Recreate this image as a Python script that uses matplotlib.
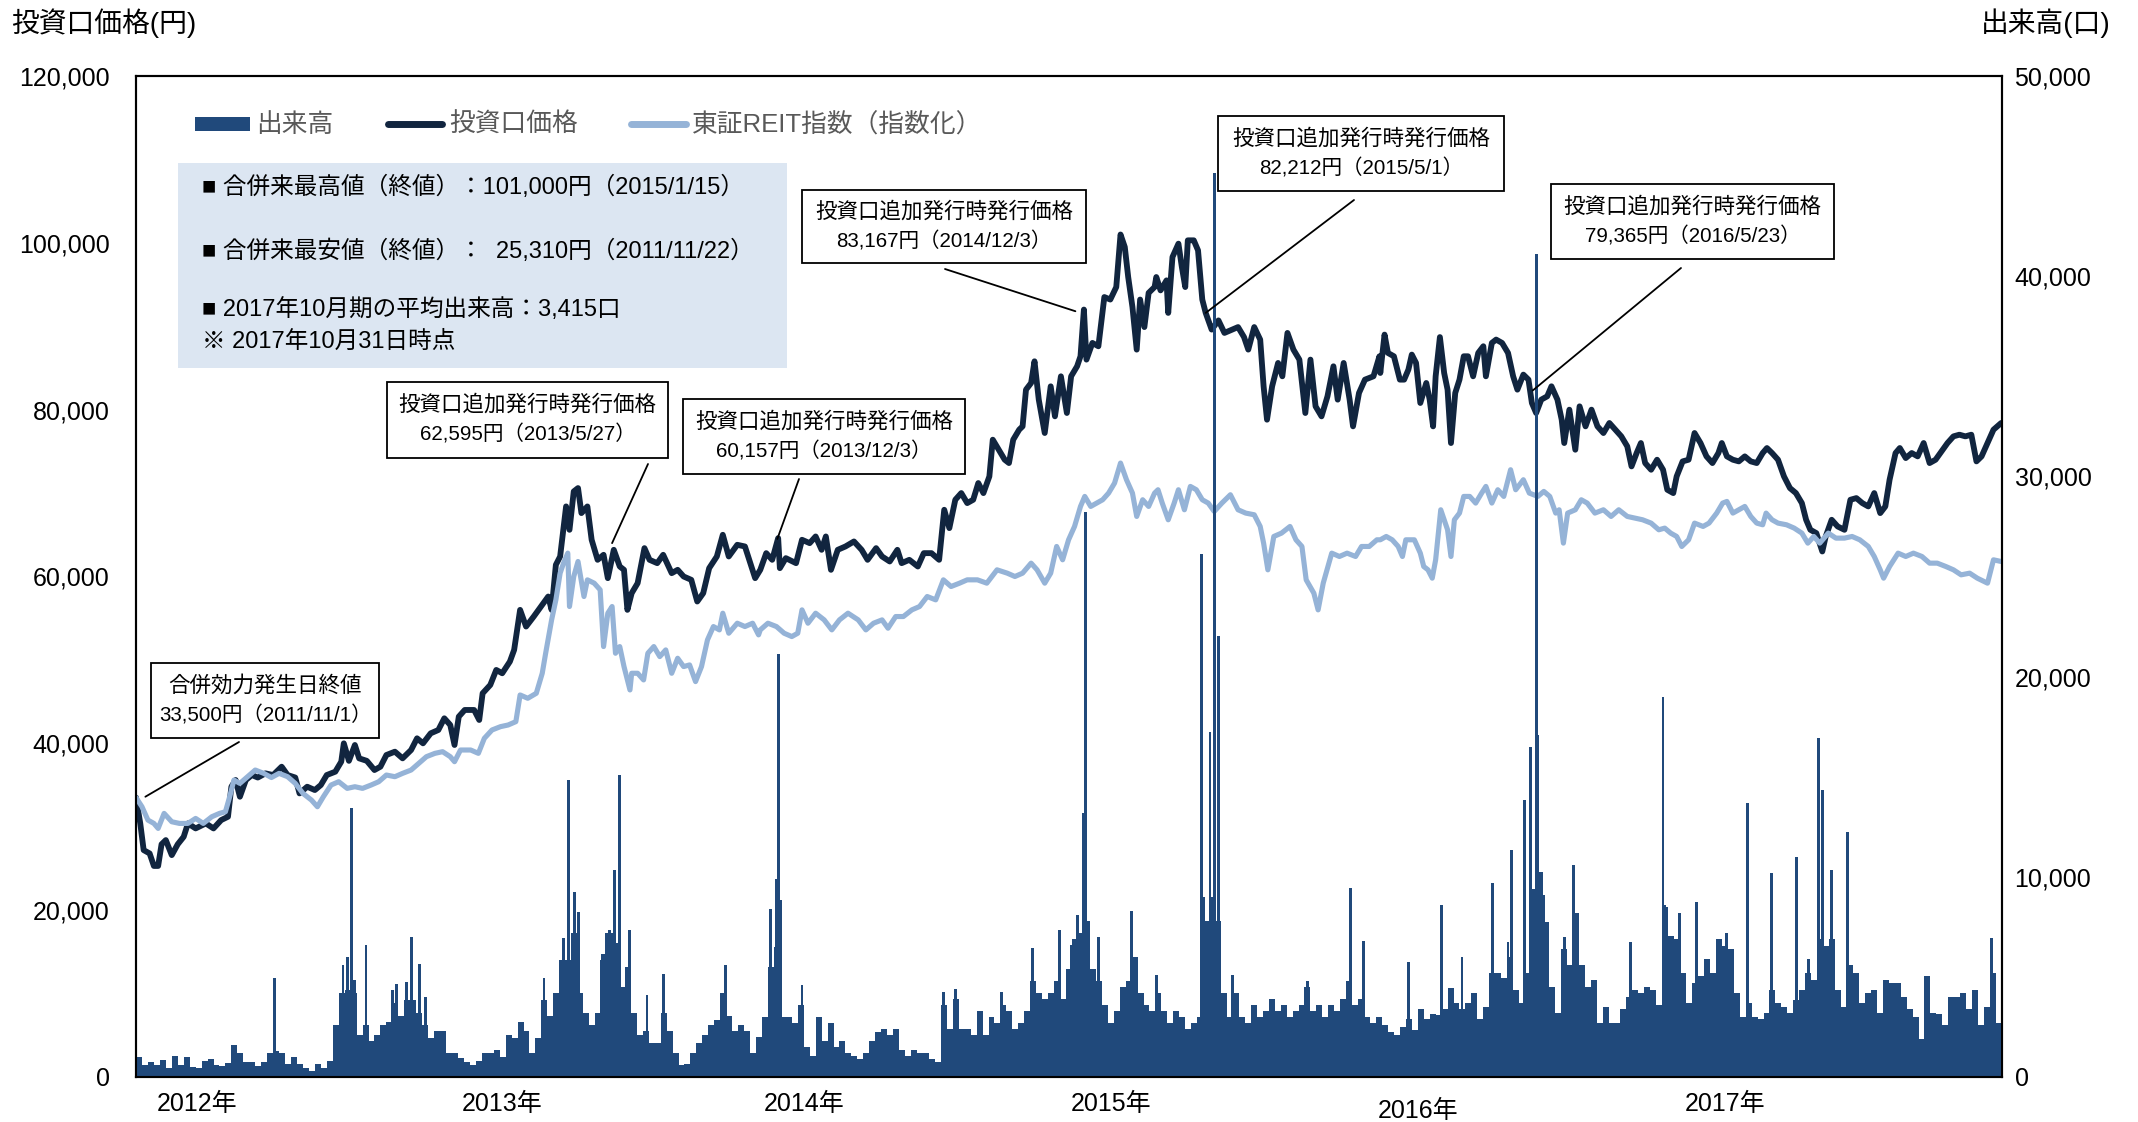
import numpy as np
import matplotlib
matplotlib.use("Agg")
import matplotlib.pyplot as plt
import matplotlib.dates as mdates
import matplotlib.transforms as mtransforms
from matplotlib.patches import Rectangle
from matplotlib.lines import Line2D
from matplotlib.ticker import FuncFormatter

plt.rcParams['font.family'] = ['Liberation Sans', 'Noto Sans CJK JP', 'DejaVu Sans']

# ---------------- data ----------------
START = '2011-11-01'          # merger effective date; days below are counted from it
END_DAY = 2191                # 2017-10-31

# 投資口価格 (thousand yen)
price_day = [0,5,9,16,21,26,30,35,42,49,56,61,70,82,91,100,108,112,117,122,129,136,143,152,161,171,178,187,192,201,
             210,217,224,234,241,244,250,257,262,271,280,287,294,304,313,323,330,337,346,355,362,369,374,379,386,397,
             403,407,416,423,430,439,444,451,458,467,477,484,488,493,498,505,509,514,519,523,530,535,542,549,554,561,
             568,573,577,582,589,597,603,612,619,629,636,643,652,659,666,673,682,689,696,706,715,727,
             733,740,747,754,756,763,775,782,791,798,805,810,816,824,833,843,852,859,869,876,885,894,899,908,918,925,
             934,943,949,955,962,969,976,983,989,995,1002,1006,1013,1020,1025,1030,1037,1041,1045,1051,1055,1060,1067,
             1074,1079,1086,1093,1098,1105,1109,1113,1116,1123,1130,1137,1144,1151,1156,1161,1165,1170,1175,1179,1184,
             1189,1196,1198,1203,1210,1212,1217,1224,1228,1232,1235,1242,1247,1252,1256,1263,1271,1278,1287,1294,1301,
             1306,1313,1320,1324,1328,1334,1341,1346,1352,1359,1366,1373,1379,1385,1392,1399,1406,1411,1418,1425,1429,
             1436,1443,1453,1460,
             1461,1466,1470,1477,1484,1489,1494,1498,1503,1508,1515,1519,1523,1526,1531,1536,1540,1544,1549,1554,1559,
             1564,1570,1576,1582,1585,1592,1597,1604,1611,1617,1622,1629,1635,1639,1644,1650,1657,1662,1669,1674,1677,
             1683,1690,1695,1702,1709,1716,1723,1730,1737,1744,1751,1756,1762,1767,1772,1779,1786,1793,1798,1805,1809,
             1816,1823,1830,1837,1844,1851,1858,1862,1868,1875,1882,1889,1896,1903,1910,1915,1921,1928,1935,1942,1949,
             1956,1961,1966,1973,1980,1984,1991,1998,2006,2013,2020,2027,2034,2041,2048,2054,2059,2066,2071,2078,2085,
             2092,2099,2106,2113,2120,2127,2134,2141,2148,2155,2161,2167,2174,2181,2190]
price_k = [33.5,30.4,27.2,26.8,25.3,25.3,27.9,28.4,26.6,27.9,28.8,30.4,29.8,30.4,29.8,30.8,31.2,34.8,35.6,33.6,
           35.6,36.2,35.9,36.4,36.2,37.2,36.2,35.9,34.0,34.8,34.4,35.0,36.2,36.6,37.8,40.0,37.9,39.8,38.2,37.9,
           36.8,37.2,38.6,39.0,38.2,39.2,40.6,40.0,41.2,41.6,43.0,42.2,39.8,43.2,44.0,44.0,42.8,46.0,47.0,48.8,
           48.4,49.8,51.2,56.0,54.0,55.2,56.6,57.6,56.0,61.4,62.4,68.4,65.6,70.2,70.6,67.6,68.4,64.4,62.0,62.6,
           59.8,63.2,61.2,60.8,56.0,58.0,59.2,63.4,62.0,61.6,62.6,60.4,60.8,60.0,59.6,57.0,58.0,61.0,62.4,65.0,
           62.4,63.8,63.6,59.8,
           60.8,62.8,62.0,64.6,61.0,62.2,61.6,64.4,64.0,64.8,63.2,64.8,60.8,63.2,63.6,64.2,63.2,62.0,63.4,62.4,
           61.8,63.2,61.6,62.0,61.2,62.8,62.8,62.0,68.0,65.8,69.2,70.0,68.8,69.2,71.2,70.0,72.0,76.4,75.2,74.0,
           73.6,76.4,77.6,78.0,82.4,83.2,85.8,81.2,77.2,82.8,79.2,84.0,79.6,84.0,85.2,86.4,92.0,86.0,88.0,87.6,
           93.5,93.2,94.7,101.0,99.5,95.9,92.3,87.2,93.2,89.9,94.0,94.7,95.9,94.3,95.5,91.6,98.3,99.9,97.1,94.7,
           100.3,100.3,99.1,93.2,91.6,89.6,90.7,89.2,89.6,89.9,88.7,87.2,89.9,88.4,82.8,78.8,82.8,85.6,84.0,89.2,
           87.2,86.0,79.6,86.0,80.4,79.2,81.6,85.2,81.2,85.6,81.2,78.0,82.0,83.6,84.0,86.4,
           84.4,89.0,86.8,86.4,83.6,83.6,84.8,86.6,85.6,80.8,83.2,81.2,78.0,84.0,88.7,84.4,82.4,76.0,82.0,83.6,
           86.4,86.4,84.0,86.8,87.6,84.0,88.0,88.4,88.0,86.8,84.0,82.4,84.2,83.6,80.8,79.6,81.2,81.6,82.8,81.2,
           78.8,76.0,80.0,75.2,80.4,78.0,80.0,78.0,77.2,78.4,77.6,76.8,75.6,73.2,74.8,76.0,73.6,72.8,74.0,72.8,
           70.4,70.0,72.0,73.8,74.0,77.2,76.0,74.4,73.6,74.8,76.0,74.4,74.0,73.8,74.4,73.8,73.6,74.8,75.4,74.8,
           74.0,72.0,70.6,70.0,68.8,66.8,65.6,65.2,63.0,64.8,66.8,66.0,65.6,69.2,69.4,68.8,68.4,70.0,67.6,68.4,
           71.6,74.8,75.4,74.2,74.8,74.4,76.0,73.6,74.0,75.0,76.0,76.8,77.0,76.8,77.0,73.8,74.4,76.0,77.6,78.4]

# 東証REIT指数（指数化, same scale as the unit price, thousand yen)
reit_day = [0,7,14,21,26,33,42,51,61,70,79,89,98,105,110,115,122,131,140,150,159,168,178,187,196,206,213,220,229,238,
            248,257,266,276,285,294,304,313,323,332,341,351,360,369,374,381,393,402,409,418,428,437,446,451,460,470,
            477,481,488,493,498,502,507,509,514,519,526,530,538,545,549,554,559,563,568,573,580,582,589,596,601,608,
            615,622,629,636,643,650,657,664,671,678,685,689,696,706,715,724,731,
            733,742,752,761,770,777,782,789,798,808,817,826,836,848,857,866,876,883,892,901,911,920,929,939,948,957,
            967,976,988,999,1011,1023,1032,1041,1051,1058,1067,1074,1081,1088,1095,1102,1109,1114,1121,1128,1135,
            1142,1149,1156,1163,1170,1175,1182,1189,1196,1200,1205,1212,1219,1224,1231,1238,1245,1252,1259,1266,1275,
            1285,1294,1303,1313,1320,1324,1329,1336,1345,1355,1362,1369,1374,1383,1388,1394,1404,1413,1422,1432,1439,
            1448,1457,
            1461,1468,1475,1482,1487,1491,1501,1508,1512,1517,1522,1526,1532,1536,1540,1544,1548,1554,1559,1566,1573,
            1580,1585,1592,1599,1606,1614,1620,1629,1636,1646,1653,1660,1667,1671,1676,1681,1690,1697,1704,1713,1723,
            1732,1741,1751,1760,1769,1779,1788,1795,1802,1809,1815,1823,1830,1840,1847,1856,1863,1868,1875,1882,1889,
            1896,1903,1910,1914,1921,1928,1938,1947,1956,1963,1970,1977,1987,1996,2006,2015,2024,2034,2041,2048,2052,
            2059,2069,2078,2087,2097,2106,2115,2125,2134,2143,2153,2162,2174,2181,2190]
reit_k = [33.5,32.4,30.8,30.4,29.8,31.6,30.6,30.4,30.4,31.0,30.4,31.2,31.6,31.8,33.6,35.6,35.2,36.0,36.8,36.4,
          35.9,36.4,36.0,35.2,34.0,33.2,32.4,33.6,35.0,35.4,34.6,34.8,34.6,35.0,35.4,36.2,36.0,36.4,36.8,37.6,
          38.4,38.8,39.0,38.4,37.8,39.2,39.2,38.8,40.6,41.6,42.0,42.2,42.6,45.8,45.4,46.0,48.4,50.8,54.8,57.2,
          60.4,61.6,62.8,56.4,60.0,61.8,57.6,59.6,59.2,58.4,51.6,55.6,56.4,50.8,51.6,49.2,46.4,48.4,48.4,47.6,
          50.8,51.6,50.4,51.2,48.4,50.2,49.2,49.4,47.4,49.2,52.4,54.0,53.6,55.6,53.2,54.4,54.0,54.4,53.0,
          53.6,54.4,54.0,53.2,52.8,53.2,56.0,54.4,55.6,54.8,53.6,54.8,55.6,54.8,53.6,54.4,54.8,53.8,55.2,55.2,
          56.0,56.4,57.6,57.2,59.6,58.8,59.2,59.6,59.6,59.2,60.8,60.4,60.0,60.4,61.6,60.8,59.2,60.4,63.6,62.0,
          64.4,66.0,68.4,69.6,68.4,68.8,69.2,70.0,71.2,73.6,71.6,70.0,67.2,69.2,68.4,70.0,70.4,68.8,66.8,68.8,
          70.4,68.0,70.8,70.4,69.2,68.8,67.8,68.8,69.8,68.0,67.6,67.4,66.0,64.0,60.8,64.8,65.2,66.0,64.4,63.6,
          59.6,58.0,56.0,59.2,62.8,62.4,62.8,62.4,63.6,63.6,64.4,
          64.4,64.8,64.4,63.6,62.4,64.4,64.4,62.8,61.2,60.8,59.8,62.0,68.0,66.8,65.6,62.4,66.8,67.6,69.6,69.6,
          68.8,70.0,70.8,68.8,70.4,69.6,72.8,70.4,71.6,70.0,69.6,70.2,69.6,67.6,68.0,64.0,67.6,68.0,69.2,68.8,
          67.6,68.0,67.2,68.0,67.2,67.0,66.8,66.4,65.6,65.8,65.2,64.8,63.6,64.4,66.4,66.0,66.4,67.6,68.8,69.0,
          67.6,68.0,68.4,67.2,66.4,66.2,67.6,66.8,66.4,66.2,65.8,65.2,64.0,64.8,64.0,65.2,64.6,64.6,64.8,64.4,
          63.6,62.4,60.8,59.8,61.2,62.8,62.4,62.8,62.4,61.6,61.6,61.2,60.8,60.2,60.4,59.8,59.2,62.0,61.8]

# 出来高 (units): weekly level from 2011-11-01, plus single heavy-volume days
vol_week = [1000,600,770,600,850,450,1050,600,1000,500, 450,800,900,600,550,700,1600,1200,750,750,
            550,750,1200,1300,1200,650,1000,650,450,300, 650,450,800,2600,4200,4350,4200,2100,2600,1800,
            2100,2600,2750,3700,3050,3850,3850,3200,2600,1950, 2300,2300,1200,1200,950,750,600,800,1200,1200,
            1350,1000,2100,1950,2750,2300,1200,1950,3850,3050, 4200,5850,5850,7200,4200,3200,2600,3200,6150,7200,
            6700,4500,5500,3200,2100,2300,1700,1700,3200,2300, 1200,600,650,1200,1700,2100,2600,2850,4200,3050,
            2300,2600,2300,1200,2000,3000,5500,6500,3000,3000, 2700,3600,1500,1050,3000,1800,2700,1500,1800,1200,
            1050,900,1200,1800,2250,2400,2100,2400,1350,1050, 1350,1200,1200,900,750,3600,2400,3900,2400,2400,
            2100,3300,2100,3000,2700,3600,3300,2400,2700,3300, 4800,4200,3900,4200,4800,3900,5400,6900,7200,7800,
            5400,4800,3600,2700,3300,4500,4800,6000,4200,3600, 3300,4200,3300,2700,3300,3000,2400,2700,3000,7800,
            9000,7800,4200,3000,4200,3000,2700,3600,3000,3300, 3900,3300,3600,3000,3300,3600,4500,3300,3600,3000,
            3600,3300,3900,4800,3600,3900,3000,2700,3000,2600, 2250,2100,2500,2900,2350,3400,2900,3150,3100,3400,
            4450,3700,3400,3700,4200,2900,3500,5200,5200,4950, 6000,4350,3700,5200,9400,10250,7750,4500,3200,6400,
            5600,8200,5600,4500,4850,2700,3500,2700,2700,3400, 4000,4350,4200,4500,4350,3600,8500,7050,6900,5200,
            3700,4700,5050,5900,5200,6900,6550,6400,4200,3000, 3700,3000,2900,3200,4350,3700,3500,3200,3850,4350,
            5200,4850,6900,6550,6900,4350,3500,5600,5200,3700, 4200,4350,3200,4850,4700,4700,4000,3400,3000,1900,
            5050,3200,3150,2600,4000,4000,4200,3400,4350,2600, 3500,5200,2700,2600]
spike_day = [163,243,248,253,257,270,301,306,318,323,333,340,479,498,502,508,515,520,547,552,
             556,562,568,573,579,600,619,692,745,752,754,757,782,948,962,1016,1053,1084,1098,1105,
             1113,1115,1130,1169,1198,1251,1254,1261,1266,1271,1288,1376,1426,1441,1494,1533,1557,1593,1611,1615,
             1630,1637,1641,1644,1646,1653,1677,1688,1755,1793,1795,1812,1832,1867,1892,1920,1950,1964,1976,1980,
             1991,2010,2179]
spike_vol = [4930,5600,6000,13420,4850,6590,4350,4660,4760,6990,5660,4010,4930,5160,6940,14840,9260,8260,5840,7170,
             7340,10340,15085,4510,7340,4090,5160,5590,8400,9900,21150,8860,4580,4250,4400,4250,6450,7340,6600,8100,
             13200,28200,7000,8300,5100,26100,9000,17250,45150,22050,5100,4800,9460,6810,5760,8590,6010,9670,6760,11340,
             13840,16500,8210,41100,17080,9090,7010,10590,6760,19000,8580,8180,8760,7180,13700,10170,11010,5910,16920,14340,
             10320,12250,6920]

year_labels = ['2012年', '2013年', '2014年', '2015年', '2016年', '2017年']
year_label_day = [72, 430, 785, 1145, 1505, 1866]

# annotation texts and the point (day, thousand yen) each leader line touches
ann_title = ['合併効力発生日終値'] + ['投資口追加発行時発行価格'] * 5
ann_value = ['33,500円（2011/11/1）', '62,595円（2013/5/27）', '60,157円（2013/12/3）',
             '83,167円（2014/12/3）', '82,212円（2015/5/1）', '79,365円（2016/5/23）']
ann_day = [11, 559, 753, 1103, 1256, 1640]
ann_price_k = [33.6, 64.0, 64.5, 91.8, 91.6, 82.3]

info_lines = ['■ 合併来最高値（終値）：101,000円（2015/1/15）',
              '■ 合併来最安値（終値）：  25,310円（2011/11/22）',
              '■ 2017年10月期の平均出来高：3,415口',
              '※ 2017年10月31日時点']

legend_labels = ['出来高', '投資口価格', '東証REIT指数（指数化）']

# ---------------- style ----------------
C_PRICE = '#11253f'
C_REIT = '#95b3d7'
C_VOL = '#20497b'
C_BOX = '#dce6f2'
C_LEG = '#595959'

W, H = 2138, 1122
def fx(px): return px / W
def fy(py): return 1 - py / H

fig = plt.figure(figsize=(W / 100, H / 100), dpi=100)
ax = fig.add_axes([fx(136), fy(1077), fx(2002) - fx(136), fy(76) - fy(1077)])
ax2 = ax.twinx()

t0 = mdates.date2num(np.datetime64(START))
def tx(days): return t0 + np.asarray(days, dtype=float)

# lines (left axis)
ax.plot(tx(price_day), np.array(price_k) * 1000, color=C_PRICE, lw=4.2,
        solid_joinstyle='round', solid_capstyle='round', zorder=2)
ax.plot(tx(reit_day), np.array(reit_k) * 1000, color=C_REIT, lw=3.7,
        solid_joinstyle='round', solid_capstyle='round', zorder=3)

# volume (right axis)
wk = np.arange(len(vol_week)) * 7
ax2.bar(tx(wk), vol_week, width=7, align='edge', color=C_VOL, linewidth=0)
ax2.bar(tx(spike_day), spike_vol, width=3.4, align='center', color=C_VOL, linewidth=0)

ax.set_xlim(tx(0), tx(END_DAY))
ax.set_ylim(0, 120000)
ax2.set_ylim(0, 50000)
ax.set_yticks(np.arange(0, 120001, 20000))
ax2.set_yticks(np.arange(0, 50001, 10000))
fmt = FuncFormatter(lambda v, p: f'{int(v):,}')
ax.yaxis.set_major_formatter(fmt)
ax2.yaxis.set_major_formatter(fmt)
ax.set_xticks([])
ax2.set_xticks([])
ax.tick_params(axis='y', length=0, labelsize=18, pad=19)
ax2.tick_params(axis='y', length=0, labelsize=18, pad=9)
for a in (ax, ax2):
    for s in a.spines.values():
        s.set_color('black')
        s.set_linewidth(1.5)

# year labels
trans = mtransforms.blended_transform_factory(ax.transData, ax.transAxes)
for lab, d in zip(year_labels, year_label_day):
    yoff = -0.034 if lab == '2016年' else -0.0265
    ax.text(tx(d), yoff, lab, transform=trans, ha='center', va='center', fontsize=18)

# axis titles
fig.text(fx(11), fy(23), '投資口価格(円)', ha='left', va='center', fontsize=20)
fig.text(fx(2111), fy(23), '出来高(口)', ha='right', va='center', fontsize=20)

# legend
fig.add_artist(Rectangle((fx(195), fy(131)), fx(250) - fx(195), fy(117) - fy(131),
                         transform=fig.transFigure, facecolor=C_VOL, edgecolor='none'))
fig.text(fx(256), fy(125), legend_labels[0], ha='left', va='center', fontsize=18.5, color=C_LEG)
fig.add_artist(Line2D([fx(388), fx(442)], [fy(124), fy(124)], transform=fig.transFigure,
                      color=C_PRICE, lw=5, solid_capstyle='round'))
fig.text(fx(449), fy(125), legend_labels[1], ha='left', va='center', fontsize=18.5, color=C_LEG)
fig.add_artist(Line2D([fx(631), fx(686)], [fy(124), fy(124)], transform=fig.transFigure,
                      color=C_REIT, lw=5, solid_capstyle='round'))
fig.text(fx(692), fy(125), legend_labels[2], ha='left', va='center', fontsize=18.5, color=C_LEG)

# info box
fig.add_artist(Rectangle((fx(178), fy(368)), fx(787) - fx(178), fy(163) - fy(368),
                         transform=fig.transFigure, facecolor=C_BOX, edgecolor='none'))
for line, yy in zip(info_lines, [187, 251, 309.5, 342]):
    fig.text(fx(202), fy(yy), line, ha='left', va='center', fontsize=17, color='black')

# annotation boxes and leader lines
boxes = [(151, 663, 379, 738), (387, 382, 668, 458), (683, 399, 965, 474),
         (802, 190, 1086, 263), (1218, 116, 1504, 191), (1551, 184, 1834, 259)]
starts = [(239, 742), (648, 464), (799, 479), (945, 269), (1354, 200), (1681, 268)]
for (x0, y0, x1, y1), (sx, sy), t1, t2, d, p in zip(boxes, starts, ann_title, ann_value, ann_day, ann_price_k):
    fig.add_artist(Rectangle((fx(x0), fy(y1)), fx(x1) - fx(x0), fy(y0) - fy(y1),
                             transform=fig.transFigure, facecolor='white', edgecolor='black', lw=1.3))
    cx = (x0 + x1) / 2
    cy = (y0 + y1) / 2
    fig.text(fx(cx), fy(cy - 14.5), t1, ha='center', va='center', fontsize=15.5)
    fig.text(fx(cx), fy(cy + 14.5), t2, ha='center', va='center', fontsize=14.8)
    ax2.annotate('', xy=(tx(d), p * 1000), xycoords=ax.transData,
                 xytext=(fx(sx), fy(sy)), textcoords='figure fraction',
                 arrowprops=dict(arrowstyle='-', color='black', lw=1.3, shrinkA=0, shrinkB=0),
                 annotation_clip=False)

fig.savefig('out.png', dpi=100, facecolor='white')
